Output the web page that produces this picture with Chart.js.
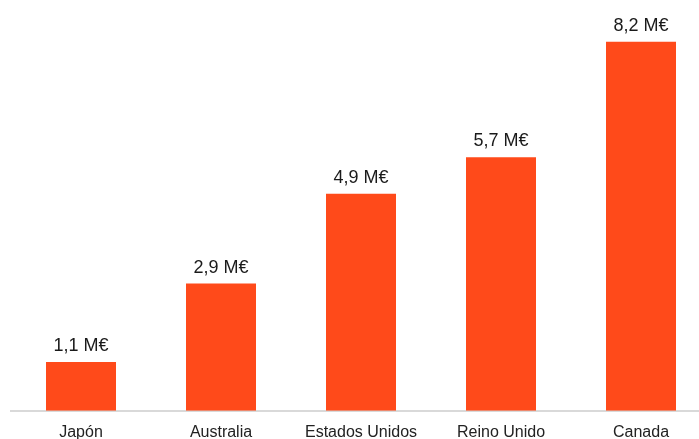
<!DOCTYPE html>
<html>
<head>
<meta charset="utf-8">
<script src="https://cdn.jsdelivr.net/npm/chart.js@4/dist/chart.umd.min.js"></script>
<style>
  html, body { margin: 0; padding: 0; background: #fff; overflow: hidden; }
  #wrap { width: 711px; height: 454px; }
</style>
</head>
<body>
<div id="wrap"><canvas id="chart" width="711" height="454"></canvas></div>
<script>
const countries = ["Japón", "Australia", "Estados Unidos", "Reino Unido", "Canada"];
const values = [1.1, 2.87, 4.9, 5.72, 8.33];
const valueLabels = ["1,1 M€", "2,9 M€", "4,9 M€", "5,7 M€", "8,2 M€"];

// labels above each bar
const barLabels = {
  id: "barLabels",
  afterDatasetsDraw(chart) {
    const ctx = chart.ctx;
    const meta = chart.getDatasetMeta(0);
    ctx.save();
    ctx.font = "18px 'Liberation Sans', Arial, sans-serif";
    ctx.fillStyle = "#1a1a1a";
    ctx.textAlign = "center";
    ctx.textBaseline = "alphabetic";
    meta.data.forEach((bar, i) => {
      ctx.fillText(valueLabels[i], bar.x, bar.y - 11);
    });
    ctx.restore();
  }
};

new Chart(document.getElementById("chart"), {
  type: "bar",
  data: {
    labels: countries,
    datasets: [{
      data: values,
      backgroundColor: "#FF4A1A",
      borderWidth: 0,
      categoryPercentage: 1,
      barPercentage: 0.5
    }]
  },
  options: {
    responsive: false,
    animation: false,
    layout: { padding: { left: 11, right: 0, top: 0, bottom: 0 } },
    plugins: { legend: { display: false }, tooltip: { enabled: false } },
    scales: {
      x: {
        grid: { display: false, drawTicks: false },
        border: { display: true, color: "#D9D9D9", width: 2 },
        ticks: {
          color: "#222",
          padding: 12,
          font: { family: "'Liberation Sans', Arial, sans-serif", size: 16 }
        }
      },
      y: { display: false, min: 0, max: 9.27 }
    }
  },
  plugins: [barLabels]
});
</script>
</body>
</html>
